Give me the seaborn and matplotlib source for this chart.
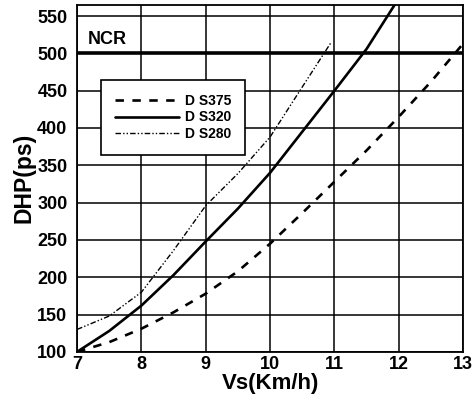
import matplotlib
matplotlib.use("Agg")
import matplotlib.pyplot as plt
import seaborn as sns
import pandas as pd

# Data
vs_375 = [7.0, 7.5, 8.0, 8.5, 9.0, 9.5, 10.0, 10.5, 11.0, 11.5, 12.0, 12.5, 13.0]
dhp_375 = [100, 113, 131, 153, 178, 208, 245, 286, 328, 370, 415, 462, 513]
vs_320 = [7.0, 7.5, 8.0, 8.5, 9.0, 9.5, 10.0, 10.5, 11.0, 11.5, 11.95]
dhp_320 = [100, 128, 162, 203, 248, 292, 340, 395, 450, 506, 567]
vs_280 = [7.0, 7.5, 8.0, 8.5, 9.0, 9.5, 10.0, 10.5, 10.95]
dhp_280 = [130, 148, 180, 236, 296, 339, 388, 455, 515]
series_names = ["DS375", "DS320", "DS280"]
legend_labels = ["D S375", "D S320", "D S280"]
ncr_value = 500
x_ticks = [7, 8, 9, 10, 11, 12, 13]
y_ticks = [100, 150, 200, 250, 300, 350, 400, 450, 500, 550]

df = pd.concat([
    pd.DataFrame({"Vs": vs_375, "DHP": dhp_375, "series": series_names[0]}),
    pd.DataFrame({"Vs": vs_320, "DHP": dhp_320, "series": series_names[1]}),
    pd.DataFrame({"Vs": vs_280, "DHP": dhp_280, "series": series_names[2]}),
])

sns.set_style("white")
plt.rcParams['font.family'] = ['Liberation Sans', 'DejaVu Sans']
plt.rcParams['font.weight'] = 'bold'
plt.rcParams['text.color'] = 'black'
plt.rcParams['axes.labelcolor'] = 'black'
plt.rcParams['xtick.color'] = 'black'
plt.rcParams['ytick.color'] = 'black'

fig = plt.figure(figsize=(4.76, 4.03), dpi=100)
ax = fig.add_axes([0.162, 0.127, 0.811, 0.861])

styles = {
    "DS375": dict(ls=(0, (3.2, 3.2)), lw=1.9),
    "DS320": dict(ls="-", lw=1.9),
    "DS280": dict(ls=(0, (4, 1.5, 1, 1.5, 1, 1.5)), lw=1.0),
}
for name, lab in zip(series_names, legend_labels):
    sub = df[df["series"] == name]
    sns.lineplot(data=sub, x="Vs", y="DHP", ax=ax, color="black",
                 linestyle=styles[name]["ls"], linewidth=styles[name]["lw"],
                 label=lab, sort=False, estimator=None)

ax.axhline(ncr_value, color="black", lw=2.6, zorder=3)
ax.text(7.17, 507, "NCR", fontsize=13, fontweight="bold", ha="left", va="bottom",
        color="black")

ax.set_xlim(7, 13)
ax.set_ylim(100, 565)
ax.set_xticks(x_ticks)
ax.set_yticks(y_ticks)
ax.grid(True, color="black", lw=1.1)
ax.set_axisbelow(True)
for s in ax.spines.values():
    s.set_color("black")
    s.set_linewidth(1.3)
ax.tick_params(axis="both", length=0, labelsize=13, labelcolor="black")
ax.tick_params(axis="y", pad=7)
ax.tick_params(axis="x", pad=3)
for lab in ax.get_xticklabels() + ax.get_yticklabels():
    lab.set_fontweight("bold")

ax.set_xlabel("Vs(Km/h)", fontsize=16, fontweight="bold", labelpad=0, color="black")
ax.set_ylabel("DHP(ps)", fontsize=16.5, fontweight="bold", color="black")
ax.yaxis.set_label_coords(-0.108, 0.5)

leg = ax.legend(loc="upper left", bbox_to_anchor=(0.062, 0.784), frameon=True,
                fancybox=False, edgecolor="black", framealpha=1,
                handlelength=4.6, handletextpad=0.45, borderpad=1.0,
                borderaxespad=0, labelspacing=0.2,
                prop={"weight": "bold", "size": 10})
leg.get_frame().set_linewidth(1.2)
for t in leg.get_texts():
    t.set_color("black")

fig.savefig("out.png", dpi=100)
